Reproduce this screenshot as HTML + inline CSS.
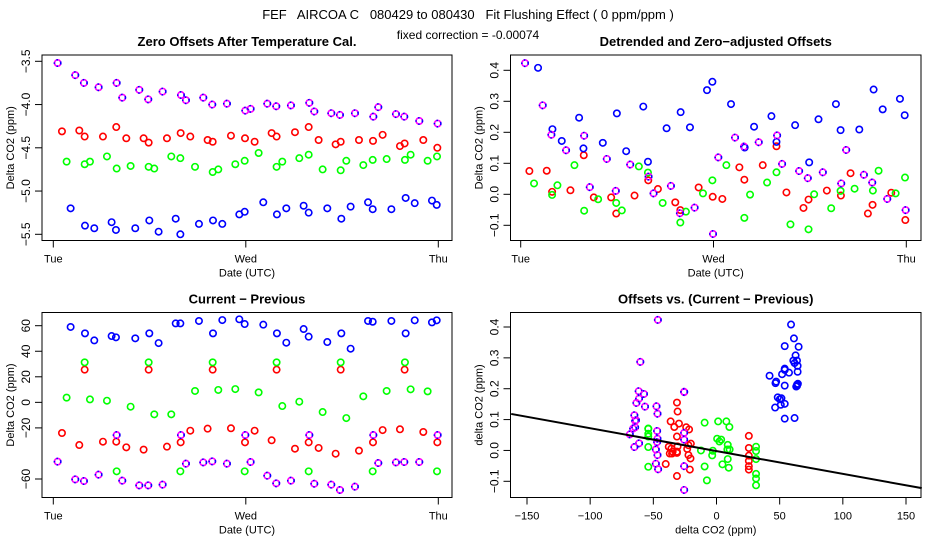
<!DOCTYPE html>
<html><head><meta charset="utf-8"><style>
html,body{margin:0;padding:0;background:#fff}
svg{display:block;font-family:"Liberation Sans",sans-serif}
</style></head><body>
<svg id="c" width="936" height="540" viewBox="0 0 936 540">
<text x="468" y="19" text-anchor="middle" font-size="13" xml:space="preserve">FEF   AIRCOA C   080429 to 080430   Fit Flushing Effect ( 0 ppm/ppm )</text>
<text x="468" y="39" text-anchor="middle" font-size="12">fixed correction = -0.00074</text>
</svg>
<script>
// time of samples, hours since Tue 00:00 (UTC)
const tMag=[0.54,2.74,3.82,5.65,7.90,8.60,10.72,11.84,13.63,15.92,16.54,18.70,19.82,21.65,23.94,24.60,26.68,27.80,29.63,31.92,32.54,34.66,35.74,37.61,39.90,40.52,42.72,43.76,45.63,47.92];
const tRed=[1.08,3.24,3.91,6.19,7.85,9.10,11.26,11.89,14.17,15.88,17.08,19.24,19.87,22.15,23.90,25.10,27.22,27.84,30.13,31.84,33.08,35.20,35.83,38.11,39.86,41.06,43.22,43.80,46.13,47.88];
const tGrn=[1.66,3.91,4.57,6.69,7.90,9.64,11.89,12.59,14.71,15.84,17.67,19.87,20.57,22.69,23.86,25.60,27.84,28.55,30.67,31.84,33.58,35.83,36.53,38.65,39.82,41.56,43.84,44.55,46.67,47.84];
const tBlu=[2.16,3.95,5.11,7.27,7.81,10.22,11.97,13.13,15.26,15.84,18.16,19.91,21.07,23.19,23.86,26.18,27.88,29.05,31.21,31.84,34.16,35.91,37.07,39.24,39.82,42.15,43.93,45.06,47.21,47.80];
// panel 1: zero offsets
const offMag=[-3.52,-3.66,-3.75,-3.80,-3.75,-3.92,-3.83,-3.94,-3.85,-3.89,-3.95,-3.92,-4.00,-3.99,-4.07,-4.05,-3.99,-4.02,-4.01,-3.98,-4.08,-4.10,-4.12,-4.10,-4.14,-4.03,-4.11,-4.14,-4.19,-4.22];
const offRed=[-4.31,-4.30,-4.37,-4.37,-4.26,-4.39,-4.39,-4.44,-4.39,-4.33,-4.37,-4.41,-4.43,-4.36,-4.39,-4.43,-4.33,-4.37,-4.32,-4.26,-4.41,-4.46,-4.43,-4.41,-4.42,-4.35,-4.48,-4.45,-4.41,-4.50];
const offGrn=[-4.66,-4.69,-4.66,-4.60,-4.74,-4.71,-4.72,-4.74,-4.60,-4.62,-4.72,-4.78,-4.75,-4.69,-4.65,-4.56,-4.72,-4.66,-4.62,-4.58,-4.75,-4.76,-4.65,-4.70,-4.64,-4.63,-4.64,-4.58,-4.65,-4.60];
const offBlu=[-5.20,-5.40,-5.43,-5.36,-5.45,-5.43,-5.34,-5.47,-5.32,-5.50,-5.38,-5.34,-5.38,-5.27,-5.24,-5.13,-5.27,-5.20,-5.17,-5.25,-5.20,-5.32,-5.18,-5.13,-5.21,-5.21,-5.08,-5.14,-5.11,-5.16];
// panel 2: detrended offsets
const detMag=[0.423,0.287,0.192,0.142,0.189,0.023,0.114,0.011,0.096,0.057,0.003,0.027,-0.061,-0.043,-0.128,0.119,0.183,0.154,0.168,0.190,0.098,0.075,0.052,0.071,0.035,0.143,0.063,0.038,-0.015,-0.051];
const detRed=[0.075,0.076,0.008,0.013,0.126,-0.010,-0.010,-0.062,-0.004,0.045,0.017,-0.026,-0.051,0.022,-0.008,-0.015,0.087,0.047,0.094,0.155,0.006,-0.044,-0.017,0.012,-0.004,0.068,-0.062,-0.034,0.005,-0.083];
const detGrn=[0.035,-0.002,0.029,0.094,-0.053,-0.016,-0.028,-0.052,0.090,0.070,-0.028,-0.091,-0.056,0.003,0.045,0.094,-0.076,-0.001,0.038,0.071,-0.097,-0.113,0.000,-0.045,0.011,0.018,0.012,0.076,0.003,0.054];
const detBlu=[0.408,0.210,0.172,0.247,0.148,0.166,0.261,0.139,0.283,0.105,0.213,0.265,0.216,0.336,0.363,0.291,0.151,0.218,0.252,0.169,0.223,0.103,0.242,0.291,0.207,0.209,0.338,0.274,0.308,0.255];
// panel 3: current - previous
const difMag=[-46.4,-60.3,-61.6,-56.6,-25.6,-61.3,-65.0,-65.0,-64.4,-25.6,-48.0,-47.0,-46.2,-48.0,-25.6,-46.7,-57.4,-63.4,-61.3,-25.6,-63.7,-64.4,-68.6,-66.0,-25.6,-47.5,-47.0,-46.7,-46.7,-25.6];
const difRed=[-24.0,-33.4,25.6,-30.8,-30.8,-35.2,-37.0,25.6,-34.7,-31.3,-22.2,-20.6,25.6,-20.3,-31.3,-22.2,-29.7,25.6,-36.3,-31.3,-35.7,-40.2,25.6,-37.8,-31.3,-21.7,-21.1,25.6,-23.2,-31.3];
const difGrn=[3.7,31.3,2.3,1.3,-54.0,-3.4,31.3,-9.4,-9.4,-54.0,8.9,31.3,9.7,10.4,-54.0,7.8,31.3,-2.9,0.5,-54.0,-7.6,31.3,-12.3,4.7,-54.0,8.9,31.3,10.2,8.6,-54.0];
const difBlu=[59.0,54.0,48.5,51.9,50.9,50.1,54.0,46.4,61.8,61.8,63.7,54.0,64.4,65.0,61.3,60.8,54.0,46.7,57.4,51.4,47.2,54.0,42.0,63.7,63.1,63.7,54.0,64.2,62.6,64.2];
// fit line
const fitSlope=-0.00074;
const fitIntercept=-0.002;
const dayLabels=["Tue","Wed","Thu"];
const dayHours=[0,24,48];
const p1Ticks=[-3.5,-4.0,-4.5,-5.0,-5.5];
const p2Ticks=[0.4,0.3,0.2,0.1,0.0,-0.1];
const p3Ticks=[60,40,20,0,-20,-60];
const p4XTicks=[-150,-100,-50,0,50,100,150];
const p4YTicks=[0.4,0.3,0.2,0.1,0.0,-0.1];

const NS="http://www.w3.org/2000/svg";
const svg=document.getElementById('c');
function mk(tag,attrs,parent){const e=document.createElementNS(NS,tag);for(const k in attrs)e.setAttribute(k,attrs[k]);(parent||svg).appendChild(e);return e;}
function lin(d0,d1,r0,r1){return v=>r0+(v-d0)*(r1-r0)/(d1-d0);}
function fmt(v,dec){return (v<0?"\u2212":"")+Math.abs(v).toFixed(dec);}

function panel(o){
  const g=mk('g',{});
  
  
  const b=mk('rect',{x:o.L,y:o.T,width:o.R-o.L,height:o.B-o.T,fill:'none',stroke:'#000','stroke-width':1},g);
  
  
  const t=mk('text',{x:(o.L+o.R)/2,y:o.T-9,'text-anchor':'middle','font-size':13,'font-weight':'bold'},g);
  t.textContent=o.title;
  
  
  // x axis
  o.xt.forEach((v,i)=>{const x=o.sx(v);
    mk('line',{x1:x,x2:x,y1:o.B,y2:o.B+7,stroke:'#000'},g);
    const tx=mk('text',{x:x,y:o.B+22,'text-anchor':'middle','font-size':11},g);
    tx.textContent=o.xl[i];
    
    
  });
  const xt=mk('text',{x:(o.L+o.R)/2,y:o.B+36,'text-anchor':'middle','font-size':11},g);
  xt.textContent=o.xtitle;
  
  
  // y axis
  o.yt.forEach(v=>{const y=o.sy(v);
    mk('line',{x1:o.L-7,x2:o.L,y1:y,y2:y,stroke:'#000'},g);
    const ty=mk('text',{x:o.L-16,y:y,'text-anchor':'middle','font-size':12,transform:`rotate(-90 ${o.L-16} ${y})`,dy:'0.35em'},g);
    ty.textContent=fmt(v,o.yd);
    
    
  });
  const yx=o.L-32,yy=(o.T+o.B)/2;
  const yt=mk('text',{x:yx,y:yy,'text-anchor':'middle','font-size':11,transform:`rotate(-90 ${yx} ${yy})`,dy:'0.35em'},g);
  yt.textContent=o.ytitle;
  
  
  return g;
}
function pts(g,xs,ys,sx,sy,color,name){
  xs.forEach((xv,i)=>{
    const c=mk('circle',{cx:sx(xv),cy:sy(ys[i]),r:3.2,fill:'none',stroke:color,'stroke-width':1.6},g);
    
    
    if(color==='#ff00ff'){
      const c2=mk('circle',{cx:sx(xv),cy:sy(ys[i]),r:3.2,fill:'none',stroke:'#0000ff','stroke-width':1.6,'stroke-dasharray':'1.5 3'},g);
      
      
    }
  });
}
const series=[["#ff0000","red"],["#00ff00","green"],["#0000ff","blue"],["#ff00ff","magenta"]];
const tAll=[tRed,tGrn,tBlu,tMag];

// Panel 1
{const L=42,R=452,T=55,B=240.5;
 const sx=lin(0,48,53.3,438.3), sy=lin(-3.5,-5.5,61.3,234.3);
 const g=panel({name:'zero-offsets-panel',L,R,T,B,sx,sy,xt:dayHours,xl:dayLabels,yt:p1Ticks,yd:1,title:'Zero Offsets After Temperature Cal.',xtitle:'Date (UTC)',ytitle:'Delta CO2 (ppm)'});
 [offRed,offGrn,offBlu,offMag].forEach((d,i)=>pts(g,tAll[i],d,sx,sy,series[i][0],'offset-point-'+series[i][1]));}
// Panel 2
{const L=510.5,R=921,T=55,B=240.5;
 const sx=lin(0,48,520.7,906.3), sy=lin(0,0.4,194.3,70.3);
 const g=panel({name:'detrended-offsets-panel',L,R,T,B,sx,sy,xt:dayHours,xl:dayLabels,yt:p2Ticks,yd:1,title:'Detrended and Zero\u2212adjusted Offsets',xtitle:'Date (UTC)',ytitle:'Delta CO2 (ppm)'});
 [detRed,detGrn,detBlu,detMag].forEach((d,i)=>pts(g,tAll[i],d,sx,sy,series[i][0],'detrended-point-'+series[i][1]));}
// Panel 3
{const L=42,R=452,T=312.5,B=497.5;
 const sx=lin(0,48,53.3,438.3), sy=lin(60,-60,325.7,479);
 const g=panel({name:'current-minus-previous-panel',L,R,T,B,sx,sy,xt:dayHours,xl:dayLabels,yt:p3Ticks,yd:0,title:'Current \u2212 Previous',xtitle:'Date (UTC)',ytitle:'Delta CO2 (ppm)'});
 [difRed,difGrn,difBlu,difMag].forEach((d,i)=>pts(g,tAll[i],d,sx,sy,series[i][0],'difference-point-'+series[i][1]));}
// Panel 4
{const L=510.5,R=921,T=312.5,B=497.5;
 const sx=lin(-150,150,527,906), sy=lin(0.4,-0.1,327,481.3);
 const g=panel({name:'offsets-vs-difference-panel',L,R,T,B,sx,sy,xt:p4XTicks,xl:p4XTicks.map(v=>fmt(v,0)),yt:p4YTicks,yd:1,title:'Offsets vs. (Current \u2212 Previous)',xtitle:'delta CO2 (ppm)',ytitle:'delta CO2 (ppm)'});
 const difs=[difRed,difGrn,difBlu,difMag], dets=[detRed,detGrn,detBlu,detMag];
 dets.forEach((d,i)=>pts(g,difs[i],d,sx,sy,series[i][0],'scatter-point-'+series[i][1]));
 const x0=-162.5,x1=162.5;
 const ln=mk('line',{x1:sx(x0),y1:sy(fitIntercept+fitSlope*x0),x2:sx(x1),y2:sy(fitIntercept+fitSlope*x1),stroke:'#000','stroke-width':2},g);
 
 }
</script>
</body></html>
